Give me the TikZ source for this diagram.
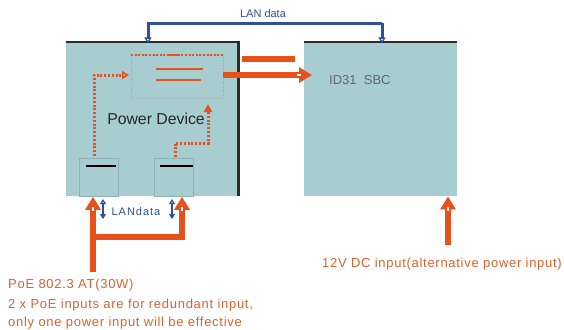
\documentclass[tikz,border=0pt]{standalone}
\usepackage{fontspec}
\setmainfont{Liberation Sans}
\usetikzlibrary{arrows.meta}
\definecolor{boxfill}{HTML}{A8CDD1}
\definecolor{pwr}{HTML}{E8501C}
\definecolor{lan}{HTML}{2F4F9C}
\definecolor{txtor}{HTML}{D9612F}
\definecolor{edge}{HTML}{2B2B2B}
\definecolor{portedge}{HTML}{8DB0B3}
\begin{document}
\begin{tikzpicture}[x=1pt,y=-1pt,
  board/.style={fill=boxfill,draw=none,inner sep=0pt,anchor=north west},
  portbox/.style={fill=boxfill,draw=portedge,line width=0.8pt,inner sep=0pt,anchor=north west,minimum width=39pt,minimum height=38pt},
  thick power/.style={draw=pwr,line width=5.5pt},
  power arrow/.style={draw=pwr,line width=5.5pt,-{Triangle[width=15pt,length=13pt]}},
  notch/.style={draw=white,line width=2.4pt},
  dotted power/.style={draw=pwr,line width=3pt,dash pattern=on 2pt off 1.8pt},
  lanline/.style={draw=lan,line width=3pt},
  spaced/.style={font=\fontsize{13}{17.5}\selectfont\addfontfeature{LetterSpace=5.5}},
  lbl/.style={inner sep=0pt,anchor=west}]
\useasboundingbox (0,0) rectangle (564,329);
% boards
\node[board,minimum width=172pt,minimum height=154pt] (pd) at (66,42) {};
\node[board,minimum width=153pt,minimum height=154pt] (sbc) at (304,42) {};
\draw[edge,line width=2.5pt] (pd.north west) -- (pd.north east) -- (pd.south east);
\draw[edge,line width=2pt] (sbc.north west) -- (sbc.north east);
% converter block
\node[draw=gray!70,dotted,line width=0.7pt,inner sep=0pt,anchor=north west,minimum width=92pt,minimum height=43pt] (conv) at (131,55) {};
\draw[pwr,line width=2.6pt,dash pattern=on 2pt off 1.6pt] (conv.north west) -- (conv.north east);
\draw[pwr,line width=2.6pt] (168,55) -- (180,55);
\coordinate (l1a) at (156,69); \coordinate (l1b) at (203,69);
\coordinate (l2a) at (156,80); \coordinate (l2b) at (201,80);
\draw[pwr,line width=2.8pt] (l1a) -- (l1b);
\draw[pwr,line width=2.8pt] (l2a) -- (l2b);
% ports
\node[portbox] (p1) at (79,158) {};
\node[portbox] (p2) at (154,158) {};
\draw[black,line width=2.2pt] ([xshift=7pt,yshift=-8pt]p1.north west) -- ([xshift=-3pt,yshift=-8pt]p1.north east);
\draw[black,line width=2.2pt] ([xshift=6pt,yshift=-8pt]p2.north west) -- ([xshift=-1pt,yshift=-8pt]p2.north east);
% internal dotted power paths
\coordinate (d1a) at (94,156); \coordinate (d1b) at (94,75); \coordinate (d1c) at (129,75);
\draw[dotted power,-{Triangle[open,width=8pt,length=7pt,line width=1.6pt,sep=0pt]}] (d1a) -- (d1b) -- (d1c);
\coordinate (d2a) at (175,157); \coordinate (d2b) at (175,143); \coordinate (d2c) at (208,143); \coordinate (d2d) at (208,104);
\draw[dotted power,-{Triangle[width=8pt,length=8pt]}] (d2a) -- (d2b) -- (d2c) -- (d2d);
\node[font=\fontsize{15.8}{19}\selectfont,text=black!85,anchor=center] (pdlbl) at (156,119) {Power Device};
% power to SBC
\coordinate (u1) at (242,59); \coordinate (u2) at (295,59);
\draw[thick power] (u1) -- (u2);
\coordinate (a1) at (223,75); \coordinate (a2) at (312,75);
\draw[power arrow] (a1) -- (a2);
\draw[notch] (297,75) -- (301,75);
\node[font=\fontsize{13}{16}\selectfont,text=black!60,lbl] (sbclbl) at (329,80) {ID31\ \ SBC};
% LAN data top
\coordinate (t1) at (148,23.5); \coordinate (t2) at (382,23.5);
\draw[lanline,-{Triangle[open,width=7pt,length=6pt,line width=1.3pt]}] (t2) -- ([yshift=-1.5pt]sbc.north west -| t2);
\draw[lanline,-{Triangle[open,width=7pt,length=6pt,line width=1.3pt]}] (t2) -- (t1) -- ([yshift=-1.5pt]pd.north west -| t1);
\node[font=\fontsize{11}{13}\selectfont,text=lan,anchor=center] (lantop) at (263,14) {LAN data};
% LAN data bottom
\coordinate (b1a) at (103,199); \coordinate (b1b) at (103,219);
\coordinate (b2a) at (172,199); \coordinate (b2b) at (172,219);
\draw[lan,line width=1.8pt,{Triangle[open,width=6pt,length=5pt,line width=1.2pt]}-{Triangle[width=6pt,length=5pt]}] (b1a) -- (b1b);
\draw[lan,line width=1.8pt,{Triangle[open,width=6pt,length=5pt,line width=1.2pt]}-{Triangle[width=6pt,length=5pt]}] (b2a) -- (b2b);
\node[font=\fontsize{11}{13}\selectfont\addfontfeature{LetterSpace=9},text=lan,anchor=center] (lanbot) at (136,212) {LANdata};
% PoE inputs
\coordinate (e0) at (93,272); \coordinate (e1) at (93,237); \coordinate (e2) at (182,237);
\draw[power arrow] (e0) -- (e1) -- (p1.south -| e1);
\draw[thick power] ([xshift=-2.75pt]e1) -- ([xshift=2.75pt]e2);
\draw[power arrow] ([yshift=2.75pt]e2) -- (p2.south -| e2);
\draw[notch] (93,207) -- (93,211);
\draw[notch] (182,207) -- (182,211);
\node[spaced,text=txtor,lbl] (poe) at (8,285) {PoE 802.3 AT(30W)};
\node[spaced,text=txtor,lbl,align=left,anchor=north west] (poe2) at (8,299) {2 x PoE inputs are for redundant input,\\only one power input will be effective};
% 12V DC
\coordinate (v0) at (448,245);
\draw[power arrow] (v0) -- (sbc.south -| v0);
\draw[notch] (448,207) -- (448,211);
\node[spaced,text=txtor,anchor=center] (dc) at (442,264) {12V DC input(alternative power input)};
\end{tikzpicture}
\end{document}
